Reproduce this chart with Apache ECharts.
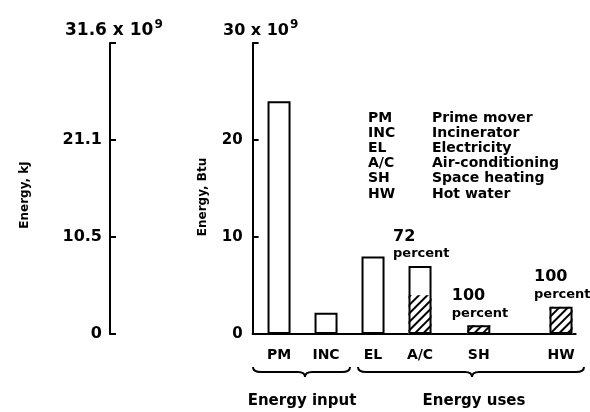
<!DOCTYPE html>
<html><head><meta charset="utf-8">
<script src="https://cdn.jsdelivr.net/npm/echarts@6/dist/echarts.min.js"></script>
<style>html,body{margin:0;padding:0;background:#fff}#c{width:590px;height:412px}</style>
</head><body><div id="c"></div>
<script>
// ---- data ----
const categories = ['PM', 'INC', 'EL', 'A/C', 'SH', 'HW'];
const totalEnergy = [24, 2.2, 8, 7, 0.9, 2.8];          // 10^9 Btu
const recoveredEnergy = [null, null, null, 4, 0.9, 2.8]; // hatched part
const percentLabels = ['', '', '', '72', '100', '100'];
const btuMax = 30;
const kjMax = 31.6;
const legendCodes = ['PM', 'INC', 'EL', 'A/C', 'SH', 'HW'];
const legendNames = ['Prime mover', 'Incinerator', 'Electricity', 'Air-conditioning', 'Space heating', 'Hot water'];
const groupNames = ['Energy input', 'Energy uses'];

// ---- layout (not data) ----
const SLOTS = 55;
const slotOf = [4, 12, 20, 28, 38, 52];
const FONT = '"DejaVu Sans", sans-serif';

const axisCats = Array.from({length: SLOTS}, (_, i) => String(i));
const catLabel = {};
slotOf.forEach((s, i) => { catLabel[String(s)] = categories[i]; });
const totalData = Array(SLOTS).fill(null);
const hatchData = Array(SLOTS).fill(null);
const pctBySlot = {};
slotOf.forEach((s, i) => {
  totalData[s] = totalEnergy[i];
  hatchData[s] = recoveredEnergy[i];
  pctBySlot[s] = percentLabels[i];
});

const chart = echarts.init(document.getElementById('c'), null, {renderer: 'canvas'});
const black = '#000';

const braceY = 372;
const lineStyle = {stroke: black, lineWidth: 2, fill: null};
function brace(x1, x2, mid) {
  const y = braceY;
  const q = (ax, ay, cx, cy, bx, by) => ({type: 'bezierCurve', shape: {x1: ax, y1: ay, cpx1: cx, cpy1: cy, x2: bx, y2: by}, style: lineStyle});
  const l = (ax, bx) => ({type: 'line', shape: {x1: ax, y1: y, x2: bx, y2: y}, style: lineStyle});
  return [
    q(x1, y - 5, x1, y, x1 + 8, y),
    l(x1 + 8, mid - 7),
    q(mid - 7, y, mid, y, mid, y + 5),
    q(mid, y + 5, mid, y, mid + 7, y),
    l(mid + 7, x2 - 8),
    q(x2 - 8, y, x2, y, x2, y - 5)
  ];
}

const graphics = [];
legendCodes.forEach((c, i) => {
  graphics.push({type: 'text', x: 368, y: 118 + i * 15.2, style: {text: c, font: `bold 14px ${FONT}`, fill: black, textVerticalAlign: 'middle'}});
  graphics.push({type: 'text', x: 432, y: 118 + i * 15.2, style: {text: legendNames[i], font: `bold 14px ${FONT}`, fill: black, textVerticalAlign: 'middle'}});
});
graphics.push({type: 'text', x: 302, y: 401, style: {text: groupNames[0], font: `bold 15px ${FONT}`, fill: black, textAlign: 'center', textVerticalAlign: 'middle'}});
graphics.push({type: 'text', x: 474, y: 401, style: {text: groupNames[1], font: `bold 15px ${FONT}`, fill: black, textAlign: 'center', textVerticalAlign: 'middle'}});
graphics.push(...brace(253, 350, 305));
graphics.push(...brace(358, 584, 472));
graphics.push({type: 'text', x: 203, y: 197, rotation: Math.PI / 2, style: {text: 'Energy, Btu', font: `bold 12px ${FONT}`, fill: black, textAlign: 'center', textVerticalAlign: 'middle'}});
graphics.push({type: 'text', x: 25, y: 195, rotation: Math.PI / 2, style: {text: 'Energy, kJ', font: `bold 12px ${FONT}`, fill: black, textAlign: 'center', textVerticalAlign: 'middle'}});

const option = {
  backgroundColor: '#fff',
  animation: false,
  title: [
    {left: 60, top: 14, text: '{b|31.6 x 10}{s|9}', textStyle: {rich: {
      b: {fontFamily: FONT, fontWeight: 'bold', fontSize: 17, color: black},
      s: {fontFamily: FONT, fontWeight: 'bold', fontSize: 12, color: black, padding: [0, 0, 12, 1]}}}},
    {left: 218, top: 14, text: '{b|30 x 10}{s|9}', textStyle: {rich: {
      b: {fontFamily: FONT, fontWeight: 'bold', fontSize: 16, color: black},
      s: {fontFamily: FONT, fontWeight: 'bold', fontSize: 12, color: black, padding: [0, 0, 12, 1]}}}}
  ],
  grid: [
    {left: 252.6, right: 14.3, top: 43, bottom: 78},
    {left: 110, width: 1, top: 43, bottom: 78}
  ],
  xAxis: [
    {type: 'category', gridIndex: 0, data: axisCats, boundaryGap: true,
      axisLine: {lineStyle: {color: black, width: 2}}, axisTick: {show: false},
      axisLabel: {interval: 0, margin: 14, color: black, fontFamily: FONT, fontWeight: 'bold', fontSize: 14,
        formatter: v => catLabel[v] || ''}},
    {type: 'category', gridIndex: 0, data: axisCats, show: false},
    {type: 'value', gridIndex: 1, show: false}
  ],
  yAxis: [
    {type: 'value', gridIndex: 0, min: 0, max: btuMax, interval: 10, splitLine: {show: false},
      axisLine: {show: true, lineStyle: {color: black, width: 2}},
      axisTick: {show: true, inside: true, length: 6, lineStyle: {color: black, width: 2}},
      axisLabel: {margin: 10, color: black, fontFamily: FONT, fontWeight: 'bold', fontSize: 15,
        formatter: v => (v >= btuMax ? '' : String(v))}},
    {type: 'value', gridIndex: 1, min: 0, max: kjMax, interval: kjMax / 3, splitLine: {show: false},
      axisLine: {show: true, lineStyle: {color: black, width: 2}},
      axisTick: {show: true, inside: true, length: 6, lineStyle: {color: black, width: 2}},
      axisLabel: {margin: 8, color: black, fontFamily: FONT, fontWeight: 'bold', fontSize: 16,
        formatter: v => (v === 0 ? '0' : (v >= kjMax - 0.01 ? '' : v.toFixed(1)))}}
  ],
  series: [
    {type: 'bar', xAxisIndex: 1, yAxisIndex: 0, data: hatchData, barWidth: 23, z: 2,
      itemStyle: {color: '#fff', borderWidth: 0,
        decal: {symbol: 'rect', symbolSize: 1, color: black, backgroundColor: '#fff',
          dashArrayX: [1, 0], dashArrayY: [1.6, 3.4], rotation: -Math.PI / 4}}},
    {type: 'bar', xAxisIndex: 0, yAxisIndex: 0, data: totalData, barWidth: 23, z: 3,
      itemStyle: {color: 'rgba(0,0,0,0)', borderColor: black, borderWidth: 2},
      label: {show: true, position: 'top', distance: 4, align: 'left', offset: [-27, 0],
        formatter: p => pctBySlot[p.dataIndex] ? `{n|${pctBySlot[p.dataIndex]}}\n{p|percent}` : '',
        rich: {
          n: {fontFamily: FONT, fontWeight: 'bold', fontSize: 16, color: black, lineHeight: 19},
          p: {fontFamily: FONT, fontWeight: 'bold', fontSize: 13, color: black, lineHeight: 16}
        }}}
  ],
  graphic: graphics
};
chart.setOption(option);
</script>
</body></html>
